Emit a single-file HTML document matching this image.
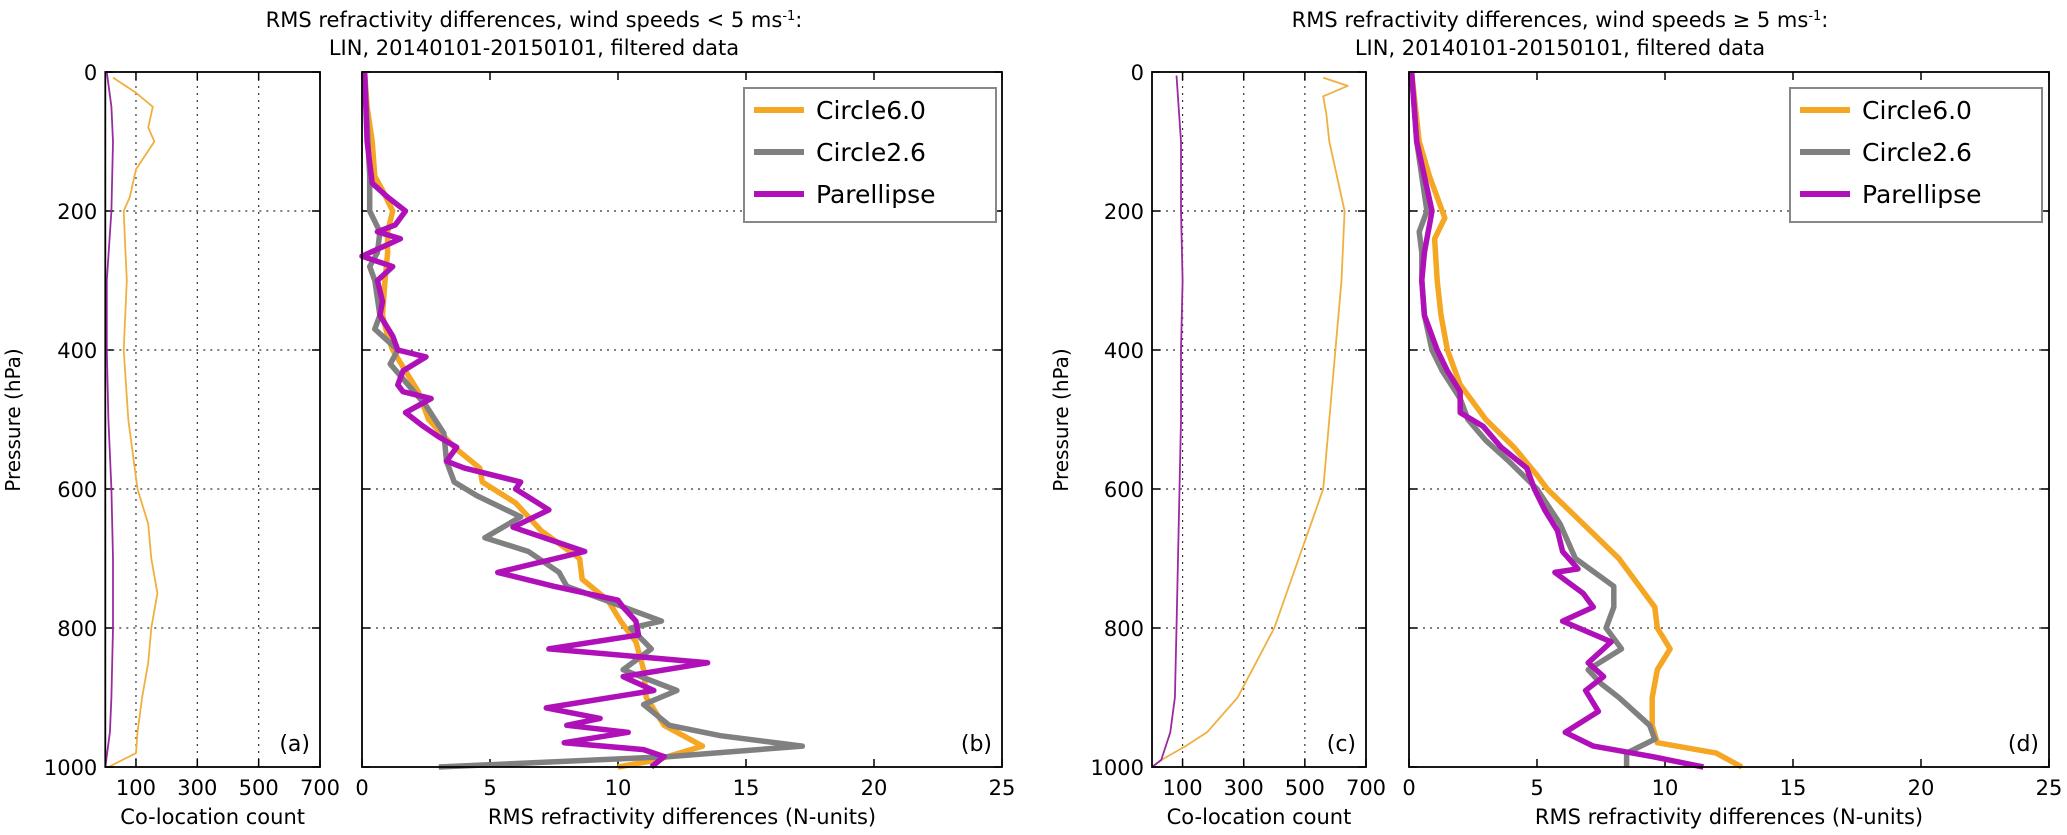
<!DOCTYPE html>
<html><head><meta charset="utf-8"><style>
body{margin:0;background:#fff;}
svg{display:block;font-family:"DejaVu Sans","Liberation Sans",sans-serif;}
</style></head><body>
<svg id="fig" width="2067" height="835" viewBox="0 0 2067 835" xmlns="http://www.w3.org/2000/svg">
<text x="534" y="27" font-size="21" text-anchor="middle">RMS  refractivity differences, wind speeds  &lt; 5 ms<tspan font-size="13" dy="-7">-1</tspan><tspan dy="7">:</tspan></text>
<text x="534" y="55" font-size="21" text-anchor="middle">LIN, 20140101-20150101, filtered data</text>
<text x="1560" y="27" font-size="21" text-anchor="middle">RMS  refractivity differences, wind speeds  ≥ 5 ms<tspan font-size="13" dy="-7">-1</tspan><tspan dy="7">:</tspan></text>
<text x="1560" y="55" font-size="21" text-anchor="middle">LIN, 20140101-20150101, filtered data</text>
<text transform="translate(20,420) rotate(-90)" font-size="20" text-anchor="middle">Pressure (hPa)</text>
<text transform="translate(1068,420) rotate(-90)" font-size="20" text-anchor="middle">Pressure (hPa)</text>
<g id="plots"></g>
</svg>
<script>
const pressureTicks=[0,200,400,600,800,1000];
const countTicks=[100,300,500,700];
const rmsTicks=[0,5,10,15,20,25];
// panel a counts
const aP=[8,30,50,80,100,140,180,200,250,300,400,500,600,650,700,750,800,850,900,950,980,1000];
const aOrange=[25,100,155,140,160,100,80,60,65,70,60,75,105,140,150,170,150,140,120,105,100,10];
const aPm=[0,50,100,200,300,400,500,600,700,800,900,950,1000];
const aMag=[5,20,25,20,5,5,10,20,25,25,20,15,0];
// panel c counts
const cP=[8,20,35,60,100,200,300,400,500,600,650,700,750,800,850,900,950,970,990,1000];
const cOrange=[560,640,560,570,580,630,620,600,580,560,520,480,440,400,340,280,180,110,30,0];
const cPm=[5,100,200,300,400,500,600,700,800,900,950,990,1000];
const cMag=[80,95,95,100,95,95,90,85,80,75,60,30,0];
// panel b RMS
const bPo=[0,50,100,150,170,200,230,260,300,350,380,400,430,460,500,540,570,590,620,660,700,730,760,790,820,860,900,940,970,990,1000];
const bOrange=[0.1,0.2,0.4,0.5,0.8,1.2,1.0,1.0,0.9,0.8,1.0,1.2,1.7,2.2,2.6,3.6,4.6,4.7,6.0,7.0,8.5,8.6,9.6,10.1,10.7,11.0,11.1,11.8,13.3,11.5,10.0];
const bPg=[0,150,200,230,260,280,300,350,370,400,420,450,480,520,560,590,610,640,670,690,720,740,760,790,800,830,860,890,910,940,955,970,985,1000];
const bGray=[0.1,0.3,0.3,0.7,0.6,0.3,0.5,0.7,0.5,1.4,1.1,1.8,2.5,3.2,3.3,3.6,4.5,6.2,4.8,6.5,7.7,8.0,9.5,11.7,10.5,11.3,10.2,12.3,11.0,12.0,14.0,17.2,12.0,3.0];
const bPm=[0,100,160,180,200,220,230,240,265,280,300,330,350,380,400,410,430,450,460,470,490,510,525,540,560,570,590,600,630,655,690,720,740,760,770,790,810,830,850,870,890,915,930,940,950,965,975,985,1000];
const bMag=[0.1,0.2,0.4,1.0,1.7,1.3,0.6,1.5,0.0,1.2,0.6,0.8,0.7,1.2,1.4,2.5,1.6,1.4,1.6,2.7,1.7,2.4,3.0,3.7,3.3,4.0,6.2,6.0,7.3,5.9,8.7,5.3,7.5,10.0,10.2,10.7,10.8,7.3,13.5,10.2,11.4,7.2,9.3,8.0,10.4,7.9,11.0,11.8,11.3];
// panel d RMS
const dPo=[0,100,150,190,210,240,300,350,400,450,500,540,580,600,650,700,740,770,800,830,860,900,940,965,980,1000];
const dOrange=[0.1,0.4,0.8,1.2,1.4,1.0,1.1,1.25,1.5,2.0,3.0,4.1,5.0,5.4,6.8,8.2,9.0,9.6,9.7,10.2,9.7,9.5,9.5,9.7,12.0,13.0];
const dPg=[0,100,150,200,230,260,300,350,400,430,470,500,530,560,600,650,700,740,770,800,830,860,880,900,940,960,980,1000];
const dGray=[0.1,0.3,0.5,0.7,0.4,0.5,0.5,0.6,0.9,1.3,2.0,2.3,3.0,3.9,5.0,5.9,6.5,8.0,8.0,7.7,8.3,7.0,7.5,8.2,9.4,9.6,8.5,8.5];
const dPm=[0,100,150,200,220,240,260,300,350,400,430,460,490,510,540,570,600,630,660,690,715,720,750,770,790,820,850,870,890,920,950,970,985,1000];
const dMag=[0.1,0.3,0.6,0.9,0.8,0.7,0.6,0.5,0.6,1.1,1.5,2.0,2.0,2.9,3.6,4.6,4.9,5.3,5.8,6.0,6.6,5.7,6.8,7.2,6.0,7.9,7.0,7.6,6.9,7.4,6.1,7.2,9.5,11.5];

const NS='http://www.w3.org/2000/svg';
const root=document.getElementById('plots');
const ORANGE='#f5a623',GRAY='#808080',MAG='#b010b8';
const TOP=72,BOT=767;
function yS(p){return TOP+(p/1000)*(BOT-TOP);}
function mk(tag,attrs,parent){const e=document.createElementNS(NS,tag);for(const k in attrs)e.setAttribute(k,attrs[k]);(parent||root).appendChild(e);return e;}
function panel(id,x0,x1,xmax,xt,xlabel,letter,yLabels,vgrid){
  const xS=v=>x0+(v/xmax)*(x1-x0);
  const g=mk('g',{});
  
  
  [200,400,600,800].forEach(p=>{const l=mk('line',{x1:x0,x2:x1,y1:yS(p),y2:yS(p),stroke:'#333','stroke-width':1.2,'stroke-dasharray':'2,5'},g);
    
    });
  if(vgrid) xt.filter(v=>v<xmax).forEach(v=>{const l=mk('line',{x1:xS(v),x2:xS(v),y1:TOP,y2:BOT,stroke:'#333','stroke-width':1.2,'stroke-dasharray':'2,5'},g);
    
    });
  xt.forEach(v=>{mk('line',{x1:xS(v),x2:xS(v),y1:BOT,y2:BOT-8,stroke:'#000','stroke-width':1.5},g);mk('line',{x1:xS(v),x2:xS(v),y1:TOP,y2:TOP+8,stroke:'#000','stroke-width':1.5},g);
    const t=mk('text',{x:xS(v),y:BOT+28,'font-size':21,'text-anchor':'middle'},g);t.textContent=v;
    
    });
  pressureTicks.forEach(p=>{mk('line',{x1:x0,x2:x0+8,y1:yS(p),y2:yS(p),stroke:'#000','stroke-width':1.5},g);mk('line',{x1:x1,x2:x1-8,y1:yS(p),y2:yS(p),stroke:'#000','stroke-width':1.5},g);
    if(yLabels){const t=mk('text',{x:x0-8,y:yS(p)+8,'font-size':21,'text-anchor':'end'},g);t.textContent=p;
      
      }});
  const xl=mk('text',{x:(x0+x1)/2,y:BOT+57,'font-size':21,'text-anchor':'middle'},g);xl.innerHTML=xlabel;
  
  
  const lt=mk('text',{x:x1-10,y:BOT-16,'font-size':22,'text-anchor':'end'},g);lt.textContent='('+letter+')';
  
  
  return {g,xS,x0,x1};
}
function series(P,ps,vs,color,w,name){
  const d=ps.map((p,i)=>(i?'L':'M')+P.xS(vs[i]).toFixed(1)+','+yS(p).toFixed(1)).join(' ');
  const e=mk('path',{d:d,fill:'none',stroke:color,'stroke-width':w,'stroke-linejoin':'round'},P.g);
  
  
}
function frame(P){const r=mk('rect',{x:P.x0,y:TOP,width:P.x1-P.x0,height:BOT-TOP,fill:'none',stroke:'#000','stroke-width':1.8},P.g);
  
  }
function legend(x,y){
  const g=mk('g',{});
  
  
  mk('rect',{x:x,y:y,width:252,height:134,fill:'#fff',stroke:'#888','stroke-width':2},g);
  [['Circle6.0',ORANGE],['Circle2.6',GRAY],[' Parellipse',MAG]].forEach((it,i)=>{
    const yy=y+22+i*42;
    mk('line',{x1:x+10,x2:x+60,y1:yy,y2:yy,stroke:it[1],'stroke-width':6},g);
    const t=mk('text',{x:x+72,y:yy+9,'font-size':25},g);t.textContent=it[0];
    
    
  });
}
const xlabRMS='RMS  refractivity differences  (N-units)';
const A=panel('a',105.3,320,700,countTicks,'Co-location count','a',true,true);
series(A,aP,aOrange,'#f0b040',1.8,'count-orange-a');
series(A,aPm,aMag,'#9a2aa0',1.8,'count-magenta-a');frame(A);
const B=panel('b',362,1002,25,rmsTicks,xlabRMS,'b',false,false);
series(B,bPo,bOrange,ORANGE,5.5,'line-circle6-b');
series(B,bPg,bGray,GRAY,5.5,'line-circle26-b');
series(B,bPm,bMag,MAG,5.5,'line-parellipse-b');frame(B);
legend(744,88);
const C=panel('c',1152,1366,700,countTicks,'Co-location count','c',true,true);
series(C,cP,cOrange,'#f0b040',1.8,'count-orange-c');
series(C,cPm,cMag,'#9a2aa0',1.8,'count-magenta-c');frame(C);
const D=panel('d',1409,2049,25,rmsTicks,xlabRMS,'d',false,false);
series(D,dPo,dOrange,ORANGE,5.5,'line-circle6-d');
series(D,dPg,dGray,GRAY,5.5,'line-circle26-d');
series(D,dPm,dMag,MAG,5.5,'line-parellipse-d');frame(D);
legend(1790,88);
</script>
</body></html>
